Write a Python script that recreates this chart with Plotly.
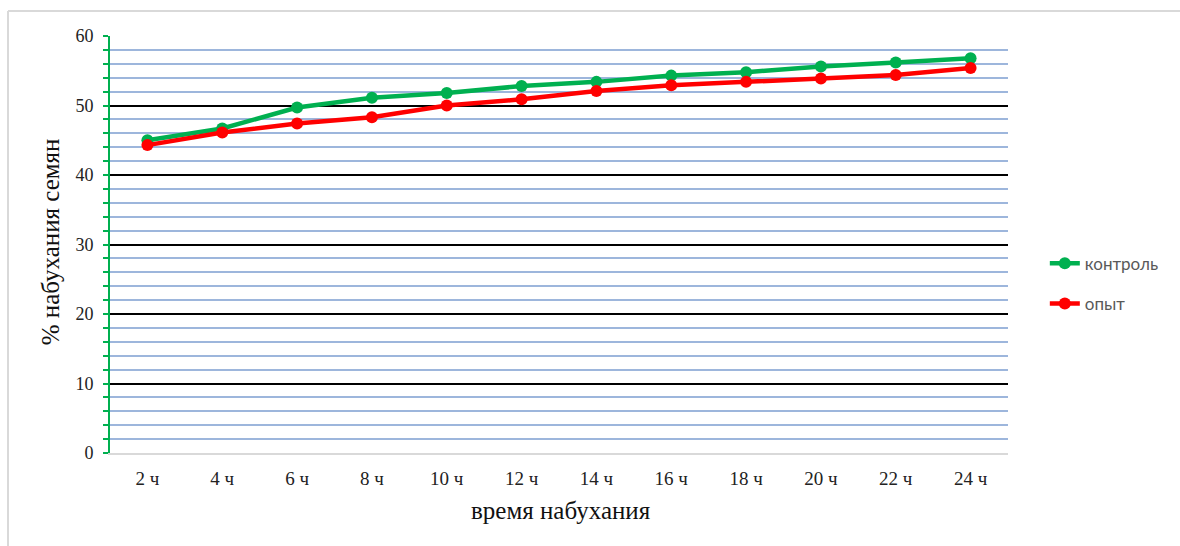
import plotly.graph_objects as go

categories = ["2 ч", "4 ч", "6 ч", "8 ч", "10 ч", "12 ч", "14 ч", "16 ч", "18 ч", "20 ч", "22 ч", "24 ч"]
control = [45.0, 46.7, 49.7, 51.1, 51.8, 52.8, 53.4, 54.3, 54.8, 55.6, 56.2, 56.8]
experiment = [44.3, 46.1, 47.4, 48.3, 50.0, 50.9, 52.1, 52.9, 53.4, 53.9, 54.4, 55.4]
series_names = ["контроль", "опыт"]
y_ticks = [0, 10, 20, 30, 40, 50, 60]

GREEN = "#00b050"
RED = "#ff0000"
SERIF = "Liberation Serif, Times New Roman, serif"

fig = go.Figure()
fig.add_trace(go.Scatter(x=categories, y=control, name=series_names[0], mode="lines+markers",
                         line=dict(color=GREEN, width=4.5), marker=dict(color=GREEN, size=12),
                         legendgroup="a"))
fig.add_trace(go.Scatter(x=categories, y=experiment, name=series_names[1], mode="lines+markers",
                         line=dict(color=RED, width=4.5), marker=dict(color=RED, size=12),
                         legendgroup="b"))

fig.update_layout(
    width=1180, height=546,
    margin=dict(l=110, r=172, t=36, b=93),
    paper_bgcolor="white", plot_bgcolor="white",
    showlegend=True,
    legend=dict(x=1.041, y=0.497, xanchor="left", yanchor="top",
                font=dict(family="Lato, Carlito, Calibri, sans-serif", size=17, color="#595959"),
                tracegroupgap=15, bgcolor="rgba(0,0,0,0)"),
    xaxis=dict(type="category", showgrid=False, showline=True, linecolor="#d9d9d9", linewidth=2,
               ticks="", tickfont=dict(family=SERIF, size=19, color="#222"),
               ticklabelstandoff=7, range=[-0.5, 11.5], zeroline=False),
    yaxis=dict(range=[0, 60], tickvals=y_ticks, showgrid=True, gridcolor="#000000", gridwidth=2,
               showline=True, linecolor=GREEN, linewidth=2,
               ticks="outside", ticklen=5, tickcolor=GREEN, tickwidth=2,
               tickfont=dict(family=SERIF, size=18, color="#222"),
               ticklabelstandoff=6,
               zeroline=True, zerolinecolor="#d9d9d9", zerolinewidth=2,
               minor=dict(dtick=2, showgrid=True, gridcolor="#9db6dc", gridwidth=2,
                          ticks="outside", ticklen=5, tickcolor=GREEN, tickwidth=2)),
    annotations=[
        dict(text="% набухания семян", xref="paper", yref="paper", x=-0.066, y=0.507,
             textangle=-90, showarrow=False, xanchor="center", yanchor="middle",
             font=dict(family=SERIF, size=25, color="#111")),
        dict(text="время набухания", xref="paper", yref="paper", x=0.502, y=-0.137,
             showarrow=False, xanchor="center", yanchor="middle",
             font=dict(family=SERIF, size=25, color="#111")),
    ],
    shapes=[
        dict(type="line", xref="paper", yref="paper", x0=-0.1136, x1=1.2, y0=1.06, y1=1.06,
             line=dict(color="#d9d9d9", width=2)),
        dict(type="line", xref="paper", yref="paper", x0=-0.1136, x1=-0.1136, y0=1.06, y1=-0.23,
             line=dict(color="#d9d9d9", width=2)),
    ],
)

fig.write_html("out.html")
